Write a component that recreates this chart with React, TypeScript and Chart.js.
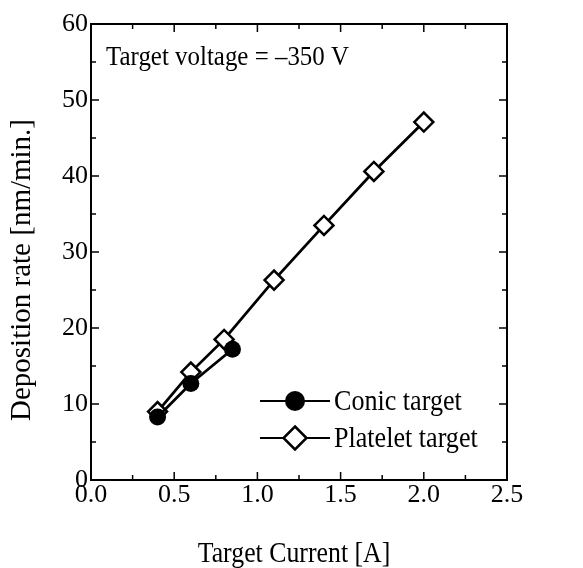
import React, { useEffect, useRef } from "react";
import { Chart, registerables } from "chart.js";

Chart.register(...registerables);

const conicCurrent = [0.4, 0.6, 0.85];
const conicRate = [8.3, 12.7, 17.2];
const plateletCurrent = [0.4, 0.6, 0.8, 1.1, 1.4, 1.7, 2.0];
const plateletRate = [9.0, 14.2, 18.5, 26.3, 33.5, 40.6, 47.1];
const seriesNames = ["Conic target", "Platelet target"];
const xRange = [0, 2.5];
const yRange = [0, 60];
const xMajorStep = 0.5;
const xMinorStep = 0.25;
const yMajorStep = 10;
const yMinorStep = 5;
const annotationText = "Target voltage = \u2013350 V";
const xTitle = "Target Current [A]";
const yTitle = "Deposition rate [nm/min.]";

const FONT = "'Liberation Serif', 'Times New Roman', serif";

function drawMarker(ctx: CanvasRenderingContext2D, kind: string, x: number, y: number, big: boolean) {
  ctx.save();
  ctx.lineWidth = 2.5;
  ctx.strokeStyle = "#000";
  if (kind === "circle") {
    ctx.fillStyle = "#000";
    ctx.beginPath();
    ctx.arc(x, y, big ? 10 : 8.5, 0, Math.PI * 2);
    ctx.fill();
  } else {
    const r = big ? 11.5 : 9.5;
    ctx.fillStyle = "#fff";
    ctx.beginPath();
    ctx.moveTo(x, y - r);
    ctx.lineTo(x + r, y);
    ctx.lineTo(x, y + r);
    ctx.lineTo(x - r, y);
    ctx.closePath();
    ctx.fill();
    ctx.stroke();
  }
  ctx.restore();
}

function squeezedText(ctx: CanvasRenderingContext2D, text: string, x: number, y: number, size: number, sx: number, align: CanvasTextAlign) {
  ctx.save();
  ctx.translate(x, y);
  ctx.scale(sx, 1);
  ctx.font = `${size}px ${FONT}`;
  ctx.fillStyle = "#000";
  ctx.textAlign = align;
  ctx.textBaseline = "alphabetic";
  ctx.fillText(text, 0, 0);
  ctx.restore();
}

const framePlugin = {
  id: "frame",
  afterDraw(chart: any) {
    const { ctx, chartArea: a, scales } = chart;
    const xs = scales.x;
    const ys = scales.y;
    ctx.save();
    ctx.strokeStyle = "#000";
    ctx.lineWidth = 2;
    ctx.strokeRect(a.left, a.top, a.right - a.left, a.bottom - a.top);
    ctx.lineWidth = 1.5;
    const seg = (x1: number, y1: number, x2: number, y2: number) => {
      ctx.beginPath();
      ctx.moveTo(x1, y1);
      ctx.lineTo(x2, y2);
      ctx.stroke();
    };
    const nx = Math.round((xRange[1] - xRange[0]) / xMinorStep);
    for (let i = 0; i <= nx; i++) {
      const v = xRange[0] + i * xMinorStep;
      const major = Math.abs(v / xMajorStep - Math.round(v / xMajorStep)) < 1e-6;
      const L = major ? 8 : 5;
      const px = xs.getPixelForValue(v);
      seg(px, a.bottom, px, a.bottom - L);
      seg(px, a.top, px, a.top + L);
    }
    const ny = Math.round((yRange[1] - yRange[0]) / yMinorStep);
    for (let i = 0; i <= ny; i++) {
      const v = yRange[0] + i * yMinorStep;
      const major = Math.abs(v / yMajorStep - Math.round(v / yMajorStep)) < 1e-6;
      const L = major ? 8 : 5;
      const py = ys.getPixelForValue(v);
      seg(a.left, py, a.left + L, py);
      seg(a.right, py, a.right - L, py);
    }

    // annotation
    squeezedText(ctx, annotationText, a.left + 15, a.top + 41, 28, 0.89, "left");

    // axis titles
    squeezedText(ctx, xTitle, (a.left + a.right) / 2 - 5, 562, 29, 0.89, "center");
    ctx.save();
    ctx.translate(22, 270);
    ctx.rotate(-Math.PI / 2);
    ctx.font = `29px ${FONT}`;
    ctx.fillStyle = "#000";
    ctx.textAlign = "center";
    ctx.textBaseline = "middle";
    ctx.fillText(yTitle, 0, 0);
    ctx.restore();

    // legend
    const kinds = ["circle", "diamond"];
    seriesNames.forEach((name, i) => {
      const ly = a.top + 377 + i * 37;
      ctx.lineWidth = 2;
      seg(a.left + 169, ly, a.left + 239, ly);
      drawMarker(ctx, kinds[i], a.left + 204, ly, true);
      squeezedText(ctx, name, a.left + 243, ly + 8.5, 29, 0.9, "left");
    });
    ctx.restore();
  },
};

export default function App() {
  const ref = useRef<HTMLCanvasElement | null>(null);
  useEffect(() => {
    if (!ref.current) return;
    const chart = new Chart(ref.current, {
      type: "scatter",
      data: {
        datasets: [
          {
            label: seriesNames[0],
            data: conicCurrent.map((x, i) => ({ x, y: conicRate[i] })),
            showLine: true,
            borderColor: "#000",
            borderWidth: 2.8,
            backgroundColor: "#000",
            pointStyle: "circle",
            pointRadius: 8.5,
            pointBorderWidth: 0,
            pointBackgroundColor: "#000",
          },
          {
            label: seriesNames[1],
            data: plateletCurrent.map((x, i) => ({ x, y: plateletRate[i] })),
            showLine: true,
            borderColor: "#000",
            borderWidth: 2.8,
            backgroundColor: "#fff",
            pointStyle: "rectRot",
            pointRadius: 9.5,
            pointBorderWidth: 2.5,
            pointBackgroundColor: "#fff",
            pointBorderColor: "#000",
          },
        ],
      },
      options: {
        animation: false,
        responsive: true,
        maintainAspectRatio: false,
        layout: { padding: { left: 0, top: 24, right: 76, bottom: 0 } },
        plugins: {
          legend: { display: false },
          tooltip: { enabled: false },
          title: { display: false },
        },
        scales: {
          x: {
            type: "linear",
            min: xRange[0],
            max: xRange[1],
            afterFit: (s: any) => {
              s.height = 88;
            },
            ticks: {
              stepSize: xMajorStep,
              color: "#000",
              font: { family: FONT, size: 26 },
              padding: 0,
              maxRotation: 0,
              callback: (v: any) => Number(v).toFixed(1),
            },
            grid: { display: false, drawTicks: false },
            border: { display: false },
            title: { display: false, text: xTitle },
          },
          y: {
            type: "linear",
            min: yRange[0],
            max: yRange[1],
            afterFit: (s: any) => {
              s.width = 91;
            },
            ticks: {
              stepSize: yMajorStep,
              color: "#000",
              font: { family: FONT, size: 26 },
              padding: 3,
            },
            grid: { display: false, drawTicks: false },
            border: { display: false },
            title: { display: false, text: yTitle },
          },
        },
      },
      plugins: [framePlugin],
    });
    return () => chart.destroy();
  }, []);
  return (
    <div style={{ position: "absolute", left: 0, top: 0, width: 583, height: 568, background: "#fff" }}>
      <canvas ref={ref} />
    </div>
  );
}
